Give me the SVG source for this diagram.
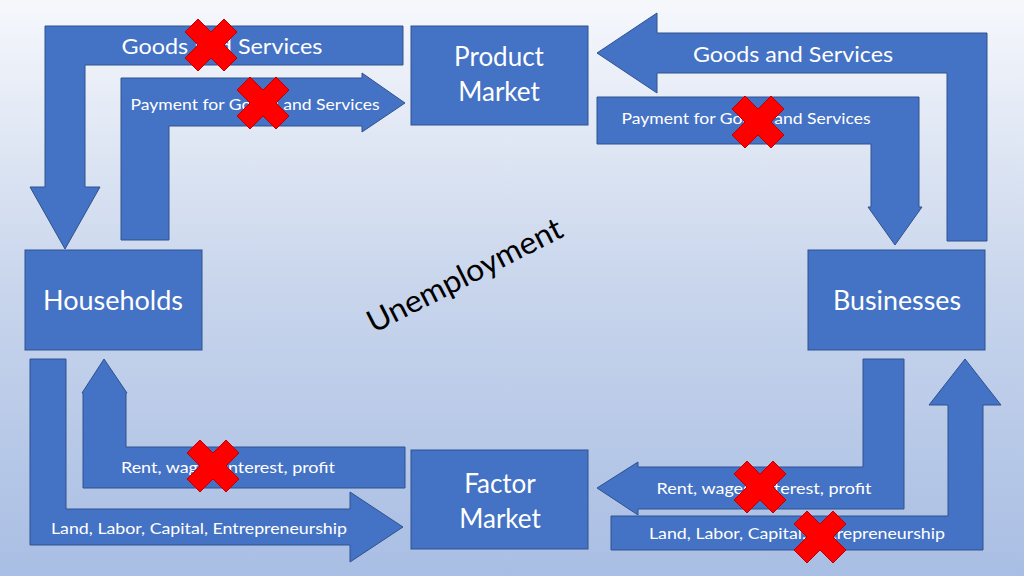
<svg xmlns="http://www.w3.org/2000/svg" width="1024" height="576" viewBox="0 0 1024 576">
<defs>
<linearGradient id="bg" x1="0" y1="0" x2="0" y2="1">
<stop offset="0" stop-color="#f6f8fc"/>
<stop offset="0.5" stop-color="#c8d5ec"/>
<stop offset="1" stop-color="#a9bee4"/>
</linearGradient>
<polygon id="xmark" points="-13,-26 0,-13 13,-26 26,-13 13,0 26,13 13,26 0,13 -13,26 -26,13 -13,0 -26,-13"/>
</defs>
<style>
.shape{fill:#4472c4;stroke:#2f528f;stroke-width:1}
.lbl{fill:#ffffff;font-family:Lato,"Liberation Sans",sans-serif;text-anchor:middle;dominant-baseline:central}
.big{font-size:26px}
.mid{font-size:22px}
.sm{font-size:16px}
.x{fill:#ff0000;stroke:#c00000;stroke-width:1}
</style>
<rect width="1024" height="576" fill="url(#bg)"/>
<g id="connectors">
<g id="arrow-goods-left">
<path class="shape" d="M403,26 L45,26 L45,187 L30,187 L65,249 L100,187 L85,187 L85,65 L403,65 Z"/>
<text class="lbl mid" x="222" y="45" textLength="201" lengthAdjust="spacingAndGlyphs">Goods and Services</text>
</g>
<g id="arrow-payment-left">
<path class="shape" d="M121,240 L121,78 L362,78 L362,73 L405,103 L362,132 L362,126 L169,126 L169,240 Z"/>
<text class="lbl sm" x="255" y="103" textLength="249" lengthAdjust="spacingAndGlyphs">Payment for Goods and Services</text>
</g>
<g id="arrow-goods-right">
<path class="shape" d="M597,53 L657,13 L657,33 L987,33 L987,241 L947,241 L947,73 L657,73 L657,93 Z"/>
<text class="lbl mid" x="793" y="53" textLength="200" lengthAdjust="spacingAndGlyphs">Goods and Services</text>
</g>
<g id="arrow-payment-right">
<path class="shape" d="M597,97 L919,97 L919,207 L922,207 L895,245 L868,207 L871,207 L871,144 L597,144 Z"/>
<text class="lbl sm" x="746" y="117" textLength="249" lengthAdjust="spacingAndGlyphs">Payment for Goods and Services</text>
</g>
<g id="arrow-land-left">
<path class="shape" d="M30,359 L66,359 L66,509 L350,509 L350,492 L403,527 L350,562 L350,545 L30,545 Z"/>
<text class="lbl sm" x="199" y="527" textLength="296" lengthAdjust="spacingAndGlyphs">Land, Labor, Capital, Entrepreneurship</text>
</g>
<g id="arrow-rent-left">
<path class="shape" d="M104,359 L127,393 L126,393 L126,447 L405,447 L405,488 L83,488 L83,393 L82,393 Z"/>
<text class="lbl sm" x="228" y="466" textLength="214" lengthAdjust="spacingAndGlyphs">Rent, wages, interest, profit</text>
</g>
<g id="arrow-rent-right">
<path class="shape" d="M863,359 L904,359 L904,509 L638,509 L638,515 L597,488 L638,462 L638,467 L863,467 Z"/>
<text class="lbl sm" x="764" y="487" textLength="215" lengthAdjust="spacingAndGlyphs">Rent, wages, interest, profit</text>
</g>
<g id="arrow-land-right">
<path class="shape" d="M611,516 L948,516 L948,405 L929,405 L965,359 L1001,405 L983,405 L983,550 L611,550 Z"/>
<text class="lbl sm" x="797" y="532" textLength="296" lengthAdjust="spacingAndGlyphs">Land, Labor, Capital, Entrepreneurship</text>
</g>
</g>
<g id="product-market">
<rect class="shape" x="411" y="26" width="177" height="99"/>
<text class="lbl big" x="499" y="56">Product</text>
<text class="lbl big" x="499" y="91">Market</text>
</g>
<g id="households">
<rect class="shape" x="25" y="250" width="177" height="100"/>
<text class="lbl big" x="113" y="300" textLength="140" lengthAdjust="spacingAndGlyphs">Households</text>
</g>
<g id="businesses">
<rect class="shape" x="808" y="250" width="177" height="100"/>
<text class="lbl big" x="897" y="300" textLength="128" lengthAdjust="spacingAndGlyphs">Businesses</text>
</g>
<g id="factor-market">
<rect class="shape" x="411" y="450" width="177" height="99"/>
<text class="lbl big" x="500" y="483">Factor</text>
<text class="lbl big" x="500" y="518">Market</text>
</g>
<text x="464" y="274" transform="rotate(-27 464 274)" font-family="Lato,'Liberation Sans',sans-serif" font-size="31" fill="#000" text-anchor="middle" dominant-baseline="central" textLength="215" lengthAdjust="spacingAndGlyphs">Unemployment</text>
<g id="crosses">
<use href="#xmark" class="x" x="211" y="45"/>
<use href="#xmark" class="x" x="263" y="103"/>
<use href="#xmark" class="x" x="758" y="122"/>
<use href="#xmark" class="x" x="213" y="466"/>
<use href="#xmark" class="x" x="760" y="487"/>
<use href="#xmark" class="x" x="820" y="537"/>
</g>
</svg>
